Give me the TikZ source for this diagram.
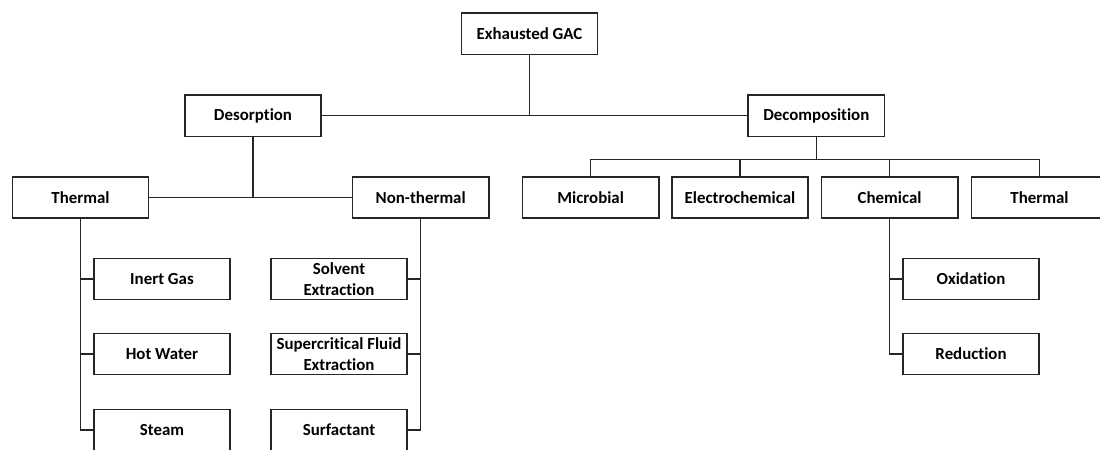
\documentclass[tikz,border=0pt]{standalone}
\usepackage{fontspec}
\setmainfont{Carlito}[Ligatures=NoCommon]
\usepackage{tikz}
\usetikzlibrary{positioning,calc}

\begin{document}
\begin{tikzpicture}[x=0.025cm, y=-0.025cm,
  box/.style={draw=black!85, line width=1.1pt, fill=white, minimum width=3.41cm,
    minimum height=1.03cm, inner sep=1pt, align=center,
    font=\bfseries\fontsize{12}{14.5}\selectfont},
  link/.style={draw=black!85, line width=1.1pt}]
  \useasboundingbox (0, 0) rectangle (1100, 449);
  \node [box] (gac) at (529.5, 33.7) {Exhausted GAC};
  \node [box] (desorp) at (253, 115.7) {Desorption};
  \node [box] (decomp) at (816.3, 115.7) {Decomposition};
  \node [box] (therm) at (80.5, 197.5) {Thermal};
  \node [box] (nontherm) at (420.7, 197.5) {Non-thermal};
  \node [box] (microbial) at (590.7, 197.5) {Microbial};
  \node [box] (electro) at (740, 197.5) {Electrochemical};
  \node [box] (chemical) at (889.6, 197.5) {Chemical};
  \node [box] (thermdec) at (1039.5, 197.5) {Thermal};
  \node [box] (inert) at (162, 279) {Inert Gas};
  \node [box] (hotwater) at (162, 354) {Hot Water};
  \node [box] (steam) at (162, 430) {Steam};
  \node [box] (solvent) at (339, 279) {Solvent\\Extraction};
  \node [box] (supercrit) at (339, 354) {Supercritical Fluid\\Extraction};
  \node [box] (surfact) at (339, 430) {Surfactant};
  \node [box] (oxid) at (971, 279) {Oxidation};
  \node [box] (reduct) at (971, 354) {Reduction};
  \coordinate (bus) at (816.3, 159.3);
  \draw [link] (gac.south) -- (gac.south |- desorp.east);
  \draw [link] (desorp.east) -- (decomp.west);
  \draw [link] (desorp.south) -- (desorp.south |- therm.east);
  \draw [link] (therm.east) -- (nontherm.west);
  \foreach \n in {inert, hotwater, steam}
    \draw [link] (therm.south) |- (\n.west);
  \foreach \n in {solvent, supercrit, surfact}
    \draw [link] (nontherm.south) |- (\n.east);
  \draw [link] (decomp.south) -- (bus);
  \draw [link] (microbial.north |- bus) -- (thermdec.north |- bus);
  \foreach \n in {microbial, electro, chemical, thermdec}
    \draw [link] (\n.north |- bus) -- (\n.north);
  \foreach \n in {oxid, reduct}
    \draw [link] (chemical.south) |- (\n.west);
\end{tikzpicture}
\end{document}
